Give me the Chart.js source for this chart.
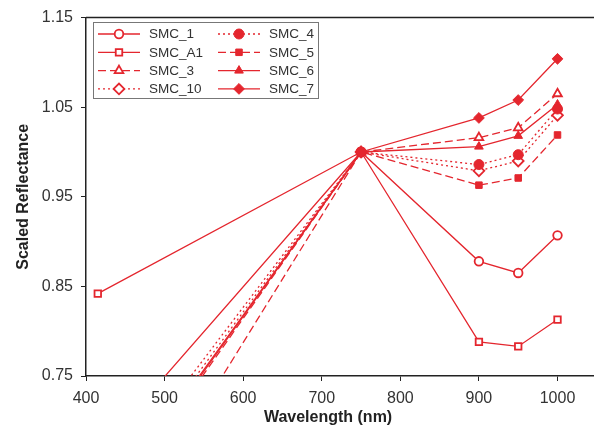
<!DOCTYPE html>
<html>
<head>
<meta charset="utf-8">
<script src="https://cdn.jsdelivr.net/npm/chart.js@4"></script>
<style>
  html, body { margin: 0; padding: 0; background: #fff; overflow: hidden; }
  #wrap { width: 604px; height: 432px; position: relative; }
</style>
</head>
<body>
<div id="wrap"><canvas id="chart"></canvas></div>
<script>
// wavelengths (nm) and scaled reflectance per sample
const wavelengths = [415, 750, 900, 950, 1000];
const smc1  = [0.664, 1.0, 0.878, 0.865, 0.907];
const smcA1 = [0.842, 1.0, 0.788, 0.783, 0.813];
const smc3  = [0.585, 1.0, 1.016, 1.027, 1.065];
const smc10 = [0.601, 1.0, 0.979, 0.990, 1.041];
const smc4  = [0.613, 1.0, 0.986, 0.997, 1.048];
const smc5  = [0.525, 1.0, 0.963, 0.971, 1.019];
const smc6  = [0.593, 1.0, 1.006, 1.018, 1.053];
const smc7  = [0.590, 1.0, 1.038, 1.058, 1.104];

const seriesNames = ['SMC_1', 'SMC_A1', 'SMC_3', 'SMC_10', 'SMC_4', 'SMC_5', 'SMC_6', 'SMC_7'];
const seriesValues = [smc1, smcA1, smc3, smc10, smc4, smc5, smc6, smc7];

const xTicks = [400, 500, 600, 700, 800, 900, 1000];
const yTicks = [0.75, 0.85, 0.95, 1.05, 1.15];

// legend layout: two columns
const legendCols = [
    ['SMC_1', 'SMC_A1', 'SMC_3', 'SMC_10'],
    ['SMC_4', 'SMC_5', 'SMC_6', 'SMC_7']
];

const red = '#e4262e';
const dashed = [8, 4];
const dotted = [2, 3];

const styles = {
    SMC_1:  { point: 'circle',   open: true,  dash: [] },
    SMC_A1: { point: 'rect',     open: true,  dash: [] },
    SMC_3:  { point: 'triangle', open: true,  dash: dashed },
    SMC_10: { point: 'rectRot',  open: true,  dash: dotted },
    SMC_4:  { point: 'circle',   open: false, dash: dotted },
    SMC_5:  { point: 'rect',     open: false, dash: dashed },
    SMC_6:  { point: 'triangle', open: false, dash: [] },
    SMC_7:  { point: 'rectRot',  open: false, dash: [] }
};

const font = '"Liberation Sans", Arial, sans-serif';

const datasets = seriesNames.map((name, i) => {
    const st = styles[name];
    let radius = st.open ? 4.3 : 5;
    if (st.point === 'rect') radius = 4.6;
    if (st.point === 'rectRot') radius = 5.4;
    if (st.point === 'triangle') radius = 5;
    return {
        label: name,
        data: wavelengths.map((w, j) => ({ x: w, y: seriesValues[i][j] })),
        borderColor: red,
        backgroundColor: st.open ? '#ffffff' : red,
        borderWidth: 1.3,
        borderDash: st.dash,
        pointStyle: st.point,
        pointRadius: radius,
        pointBorderWidth: st.open ? 1.8 : 1,
        pointBorderColor: red,
        pointBackgroundColor: st.open ? '#ffffff' : red,
        order: st.open ? 1 : 0, // filled markers on top
        tension: 0
    };
});

const boxLegend = {
    id: 'boxLegend',
    afterDraw(chart) {
        const ctx = chart.ctx;
        ctx.save();
        ctx.strokeStyle = '#777';
        ctx.lineWidth = 1;
        ctx.setLineDash([]);
        ctx.strokeRect(93.5, 22.5, 225, 76);
        ctx.font = '13.5px ' + font;
        ctx.textBaseline = 'middle';
        legendCols.forEach((col, c) => {
            col.forEach((name, r) => {
                const ds = chart.data.datasets.find(d => d.label === name);
                const x0 = 98 + c * 120;
                const y = 34 + r * 18.3;
                ctx.strokeStyle = red;
                ctx.lineWidth = ds.borderWidth;
                ctx.setLineDash(ds.borderDash);
                ctx.beginPath();
                ctx.moveTo(x0, y);
                ctx.lineTo(x0 + 42, y);
                ctx.stroke();
                ctx.setLineDash([]);
                ctx.fillStyle = ds.pointBackgroundColor;
                ctx.strokeStyle = red;
                ctx.lineWidth = ds.pointBorderWidth;
                Chart.helpers.drawPoint(ctx, {
                    pointStyle: ds.pointStyle,
                    radius: ds.pointRadius,
                    borderWidth: ds.pointBorderWidth,
                    rotation: 0
                }, x0 + 21, y);
                ctx.fillStyle = '#333';
                ctx.fillText(name, x0 + 51, y + 0.5);
            });
        });
        ctx.restore();
    }
};

const frameAndTitles = {
    id: 'frameAndTitles',
    afterDraw(chart) {
        const ctx = chart.ctx;
        const area = chart.chartArea;
        ctx.save();
        // top frame line
        ctx.strokeStyle = '#222';
        ctx.lineWidth = 1.5;
        ctx.beginPath();
        ctx.moveTo(area.left, area.top);
        ctx.lineTo(area.right, area.top);
        ctx.stroke();
        // axis titles
        ctx.fillStyle = '#222';
        ctx.font = 'bold 16px ' + font;
        ctx.textAlign = 'center';
        ctx.textBaseline = 'middle';
        ctx.fillText('Wavelength (nm)', chart.scales.x.getPixelForValue(708), 418);
        ctx.translate(24, (area.top + area.bottom) / 2);
        ctx.rotate(-Math.PI / 2);
        ctx.fillText('Scaled Reflectance', 0, 0);
        ctx.restore();
    }
};

new Chart(document.getElementById('chart').getContext('2d'), {
    type: 'scatter',
    data: { datasets: datasets },
    options: {
        responsive: true,
        maintainAspectRatio: false,
        animation: false,
        showLine: true,
        layout: { padding: { left: 0, top: 16, right: 6, bottom: 0 } },
        plugins: {
            legend: { display: false },
            tooltip: { enabled: false }
        },
        scales: {
            x: {
                type: 'linear',
                min: 400,
                max: 1050,
                afterBuildTicks: scale => { scale.ticks = xTicks.map(v => ({ value: v })); },
                afterFit: scale => { scale.height = 56; },
                grid: { drawOnChartArea: false, tickLength: 5, color: '#222', lineWidth: 1 },
                border: { color: '#222', width: 1.5 },
                ticks: {
                    color: '#333',
                    font: { family: font, size: 16 },
                    padding: 8,
                    maxRotation: 0,
                    callback: v => String(v)
                }
            },
            y: {
                type: 'linear',
                min: 0.75,
                max: 1.15,
                afterBuildTicks: scale => { scale.ticks = yTicks.map(v => ({ value: v })); },
                afterFit: scale => { scale.width = 86; },
                grid: { drawOnChartArea: false, tickLength: 5, color: '#222', lineWidth: 1 },
                border: { color: '#222', width: 1.5 },
                ticks: {
                    color: '#333',
                    font: { family: font, size: 16 },
                    padding: 8,
                    callback: v => Number(v).toFixed(2)
                }
            }
        }
    },
    plugins: [boxLegend, frameAndTitles]
});
</script>
</body>
</html>
